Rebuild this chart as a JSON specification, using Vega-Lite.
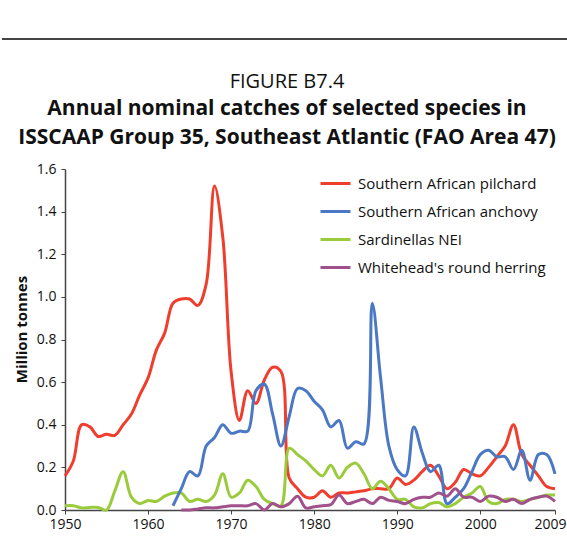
{
  "$schema": "https://vega.github.io/schema/vega-lite/v6.json",
  "width": 490,
  "height": 341,
  "padding": {"left": 0, "top": 37, "right": 0, "bottom": 5},
  "background": "white",
  "config": {
    "font": "Open Sans",
    "view": {"stroke": null}
  },
  "title": {
    "text": "FIGURE B7.4",
    "subtitle": ["Annual nominal catches of selected species in", "ISSCAAP Group 35, Southeast Atlantic (FAO Area 47)"],
    "anchor": "middle",
    "frame": "group",
    "dx": -23,
    "dy": 121,
    "font": "Open Sans",
    "fontSize": 20,
    "fontWeight": "normal",
    "color": "#111111",
    "subtitleFont": "Open Sans",
    "subtitleFontSize": 21,
    "subtitleFontWeight": "bold",
    "subtitleColor": "#111111",
    "subtitleLineHeight": 29,
    "subtitlePadding": 6,
    "offset": 11
  },
  "layer": [
    {
      "data": {"values": [{}]},
      "mark": {"type": "rule", "strokeWidth": 2, "color": "#444444", "clip": false},
      "encoding": {
        "y": {"datum": 2.21, "type": "quantitative"},
        "x": {"datum": 1942.41, "type": "quantitative"},
        "x2": {"datum": 2010.7}
      }
    },
    {
      "data": {
        "values": [
          {"year": 1950, "P": 0.16, "A": null, "S": 0.02, "W": null},
          {"year": 1951, "P": 0.23, "A": null, "S": 0.02, "W": null},
          {"year": 1952, "P": 0.40, "A": null, "S": 0.01, "W": null},
          {"year": 1953, "P": 0.39, "A": null, "S": 0.012, "W": null},
          {"year": 1954, "P": 0.345, "A": null, "S": 0.012, "W": null},
          {"year": 1955, "P": 0.355, "A": null, "S": 0.0, "W": null},
          {"year": 1956, "P": 0.35, "A": null, "S": 0.09, "W": null},
          {"year": 1957, "P": 0.40, "A": null, "S": 0.18, "W": null},
          {"year": 1958, "P": 0.45, "A": null, "S": 0.06, "W": null},
          {"year": 1959, "P": 0.54, "A": null, "S": 0.03, "W": null},
          {"year": 1960, "P": 0.62, "A": null, "S": 0.045, "W": null},
          {"year": 1961, "P": 0.75, "A": null, "S": 0.04, "W": null},
          {"year": 1962, "P": 0.83, "A": null, "S": 0.065, "W": null},
          {"year": 1963, "P": 0.97, "A": 0.02, "S": 0.08, "W": null},
          {"year": 1964, "P": 0.99, "A": 0.10, "S": 0.08, "W": 0.0},
          {"year": 1965, "P": 0.99, "A": 0.18, "S": 0.04, "W": 0.0},
          {"year": 1966, "P": 0.96, "A": 0.16, "S": 0.05, "W": 0.005},
          {"year": 1967, "P": 1.06, "A": 0.30, "S": 0.04, "W": 0.01},
          {"year": 1968, "P": 1.52, "A": 0.34, "S": 0.07, "W": 0.01},
          {"year": 1969, "P": 1.28, "A": 0.40, "S": 0.17, "W": 0.015},
          {"year": 1970, "P": 0.65, "A": 0.36, "S": 0.06, "W": 0.02},
          {"year": 1971, "P": 0.42, "A": 0.37, "S": 0.08, "W": 0.02},
          {"year": 1972, "P": 0.56, "A": 0.37, "S": 0.14, "W": 0.02},
          {"year": 1973, "P": 0.50, "A": 0.56, "S": 0.11, "W": 0.03},
          {"year": 1974, "P": 0.61, "A": 0.59, "S": 0.05, "W": 0.0},
          {"year": 1975, "P": 0.67, "A": 0.45, "S": 0.03, "W": 0.03},
          {"year": 1976, "P": 0.65, "A": 0.30, "S": 0.02, "W": 0.015},
          {"year": 1977, "P": 0.15, "A": 0.44, "S": 0.29, "W": 0.03},
          {"year": 1978, "P": 0.10, "A": 0.57, "S": 0.26, "W": 0.065},
          {"year": 1979, "P": 0.06, "A": 0.56, "S": 0.23, "W": 0.01},
          {"year": 1980, "P": 0.06, "A": 0.51, "S": 0.19, "W": 0.015},
          {"year": 1981, "P": 0.09, "A": 0.47, "S": 0.16, "W": 0.02},
          {"year": 1982, "P": 0.06, "A": 0.39, "S": 0.21, "W": 0.025},
          {"year": 1983, "P": 0.08, "A": 0.42, "S": 0.15, "W": 0.07},
          {"year": 1984, "P": 0.08, "A": 0.29, "S": 0.20, "W": 0.03},
          {"year": 1985, "P": 0.085, "A": 0.32, "S": 0.22, "W": 0.04},
          {"year": 1986, "P": 0.09, "A": 0.31, "S": 0.17, "W": 0.05},
          {"year": 1987, "P": 0.10, "A": 0.97, "S": 0.10, "W": 0.03},
          {"year": 1988, "P": 0.10, "A": 0.62, "S": 0.135, "W": 0.06},
          {"year": 1989, "P": 0.10, "A": 0.30, "S": 0.10, "W": 0.045},
          {"year": 1990, "P": 0.15, "A": 0.19, "S": 0.05, "W": 0.04},
          {"year": 1991, "P": 0.12, "A": 0.16, "S": 0.05, "W": 0.03},
          {"year": 1992, "P": 0.14, "A": 0.39, "S": 0.015, "W": 0.05},
          {"year": 1993, "P": 0.18, "A": 0.27, "S": 0.01, "W": 0.06},
          {"year": 1994, "P": 0.21, "A": 0.18, "S": 0.03, "W": 0.06},
          {"year": 1995, "P": 0.16, "A": 0.21, "S": 0.035, "W": 0.08},
          {"year": 1996, "P": 0.10, "A": 0.03, "S": 0.015, "W": 0.065},
          {"year": 1997, "P": 0.13, "A": 0.06, "S": 0.03, "W": 0.10},
          {"year": 1998, "P": 0.19, "A": 0.10, "S": 0.06, "W": 0.06},
          {"year": 1999, "P": 0.17, "A": 0.18, "S": 0.08, "W": 0.06},
          {"year": 2000, "P": 0.16, "A": 0.26, "S": 0.11, "W": 0.04},
          {"year": 2001, "P": 0.20, "A": 0.28, "S": 0.04, "W": 0.065},
          {"year": 2002, "P": 0.25, "A": 0.25, "S": 0.03, "W": 0.06},
          {"year": 2003, "P": 0.30, "A": 0.25, "S": 0.05, "W": 0.04},
          {"year": 2004, "P": 0.40, "A": 0.19, "S": 0.05, "W": 0.05},
          {"year": 2005, "P": 0.26, "A": 0.28, "S": 0.04, "W": 0.03},
          {"year": 2006, "P": 0.21, "A": 0.14, "S": 0.05, "W": 0.05},
          {"year": 2007, "P": 0.16, "A": 0.26, "S": 0.06, "W": 0.06},
          {"year": 2008, "P": 0.11, "A": 0.26, "S": 0.07, "W": 0.065},
          {"year": 2009, "P": 0.10, "A": 0.17, "S": 0.07, "W": 0.04}
        ]
      },
      "transform": [
        {"fold": ["P", "A", "S", "W"], "as": ["species", "value"]},
        {"filter": "isValid(datum.value)"}
      ],
      "mark": {"type": "line", "strokeWidth": 3, "interpolate": "catmull-rom"},
      "encoding": {
        "x": {
          "field": "year",
          "type": "quantitative",
          "scale": {"domain": [1950, 2009], "nice": false, "zero": false},
          "axis": {
            "title": null,
            "values": [1950, 1960, 1970, 1980, 1990, 2000, 2009],
            "format": "d",
            "grid": false,
            "labelFontSize": 14,
            "labelColor": "#111111",
            "labelPadding": 3,
            "labelOffset": {"condition": {"test": "datum.value == 2009", "value": -5}, "value": 0},
            "tickSize": 4,
            "tickColor": "#444444",
            "domainColor": "#444444",
            "domainWidth": 1.5,
            "labelFlush": false
          }
        },
        "y": {
          "field": "value",
          "type": "quantitative",
          "scale": {"domain": [0, 1.6], "nice": false},
          "axis": {
            "title": "Million tonnes",
            "titleFontSize": 15,
            "titleFontWeight": "bold",
            "titleColor": "#111111",
            "titlePadding": 7,
            "titleY": 160,
            "values": [0, 0.2, 0.4, 0.6, 0.8, 1.0, 1.2, 1.4, 1.6],
            "format": ".1f",
            "grid": false,
            "labelFontSize": 14,
            "labelColor": "#111111",
            "labelPadding": 5,
            "tickSize": 4,
            "tickColor": "#444444",
            "domainColor": "#444444",
            "domainWidth": 1.5
          }
        },
        "color": {
          "field": "species",
          "type": "nominal",
          "scale": {
            "domain": ["P", "A", "S", "W"],
            "range": ["#EF3E2D", "#4A78C5", "#9ACB3B", "#A0508A"]
          },
          "legend": {
            "title": null,
            "orient": "none",
            "legendX": 254,
            "legendY": -2,
            "symbolType": "stroke",
            "symbolStrokeWidth": 3,
            "symbolSize": 900,
            "labelFontSize": 15,
            "labelLimit": 0,
            "labelColor": "#111111",
            "labelOffset": 6,
            "rowPadding": 3,
            "labelExpr": "{'P': 'Southern African pilchard', 'A': 'Southern African anchovy', 'S': 'Sardinellas NEI', 'W': \"Whitehead's round herring\"}[datum.label]"
          }
        }
      }
    }
  ]
}
